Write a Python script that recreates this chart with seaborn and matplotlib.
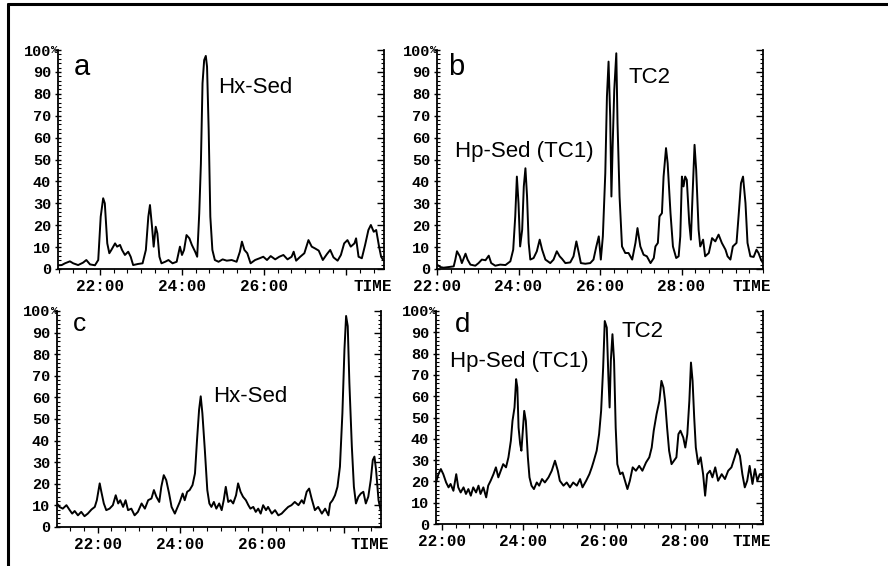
import matplotlib
matplotlib.use("Agg")
import matplotlib.pyplot as plt
import matplotlib.transforms as mtransforms
from matplotlib.lines import Line2D
from matplotlib.ticker import MultipleLocator, FixedLocator
import pandas as pd
import seaborn as sns

# ---------------- data (time in minutes, signal in %) ----------------
time_a = [20.98, 21.07, 21.15, 21.27, 21.35, 21.47, 21.59, 21.67, 21.76, 21.88,
          21.96, 22.02, 22.08, 22.12, 22.18, 22.23, 22.28, 22.37, 22.42, 22.49,
          22.54, 22.61, 22.69, 22.75, 22.81, 22.93, 23.04, 23.12, 23.18, 23.22,
          23.27, 23.31, 23.36, 23.40, 23.45, 23.50, 23.59, 23.67, 23.77, 23.87,
          23.95, 24.00, 24.05, 24.11, 24.18, 24.24, 24.32, 24.37, 24.42, 24.46,
          24.50, 24.54, 24.58, 24.61, 24.65, 24.69, 24.74, 24.80, 24.89, 24.99,
          25.09, 25.21, 25.33, 25.41, 25.46, 25.52, 25.59, 25.67, 25.78, 25.89,
          25.98, 26.07, 26.16, 26.27, 26.37, 26.47, 26.57, 26.67, 26.72, 26.78,
          26.88, 26.98, 27.08, 27.16, 27.24, 27.33, 27.43, 27.53, 27.61, 27.69,
          27.79, 27.87, 27.95, 28.03, 28.11, 28.20, 28.24, 28.30, 28.38, 28.46,
          28.54, 28.60, 28.67, 28.73, 28.80, 28.85, 28.89]
sig_a = [1.7, 1.8, 2.6, 3.5, 2.6, 1.8, 2.9, 4.1, 2.1, 1.7,
         4.1, 23.9, 32.3, 30.0, 11.7, 7.2, 8.7, 11.7, 10.2, 11.0,
         8.7, 6.4, 7.9, 5.6, 1.8, 2.3, 2.6, 8.7, 23.9, 29.2,
         19.3, 10.2, 19.3, 16.3, 5.6, 2.6, 3.3, 4.1, 2.6, 3.3,
         10.2, 6.4, 8.7, 15.5, 14.0, 11.0, 7.9, 5.6, 25.4, 48.0,
         84.8, 95.4, 97.3, 92.4, 63.5, 23.9, 8.7, 4.1, 3.3, 4.4,
         3.8, 4.1, 3.3, 7.9, 12.5, 8.7, 7.2, 2.6, 4.1, 4.9,
         5.6, 4.1, 5.9, 4.4, 5.6, 6.4, 4.4, 5.6, 7.9, 3.8,
         5.6, 7.2, 13.2, 10.2, 9.4, 8.4, 4.1, 6.8, 8.7, 5.3,
         3.8, 6.4, 11.7, 13.2, 10.2, 11.7, 14.0, 5.6, 4.9, 11.0,
         17.8, 20.1, 17.0, 17.8, 10.2, 5.6, 4.4]

time_b = [22.00, 22.08, 22.16, 22.29, 22.41, 22.45, 22.49, 22.56, 22.61, 22.70,
          22.75, 22.82, 22.94, 23.02, 23.10, 23.19, 23.27, 23.33, 23.43, 23.55,
          23.68, 23.80, 23.87, 23.92, 23.96, 24.00, 24.04, 24.09, 24.13, 24.17,
          24.21, 24.25, 24.29, 24.37, 24.45, 24.52, 24.58, 24.66, 24.78, 24.86,
          24.94, 25.01, 25.07, 25.15, 25.27, 25.35, 25.42, 25.48, 25.53, 25.64,
          25.76, 25.84, 25.91, 25.97, 26.02, 26.07, 26.13, 26.17, 26.21, 26.25,
          26.28, 26.31, 26.35, 26.40, 26.43, 26.48, 26.54, 26.62, 26.70, 26.79,
          26.87, 26.92, 26.99, 27.07, 27.15, 27.24, 27.32, 27.36, 27.42, 27.46,
          27.52, 27.56, 27.62, 27.66, 27.73, 27.79, 27.87, 27.93, 27.97, 28.01,
          28.05, 28.09, 28.13, 28.19, 28.23, 28.27, 28.32, 28.36, 28.42, 28.46,
          28.53, 28.58, 28.67, 28.75, 28.83, 28.91, 28.99, 29.08, 29.13, 29.20,
          29.26, 29.35, 29.40, 29.46, 29.51, 29.57, 29.62, 29.69, 29.77, 29.84,
          29.89, 29.95, 30.00]
sig_b = [2.0, 0.9, 0.6, 0.9, 1.2, 4.3, 8.1, 5.8, 2.7, 7.0,
         4.3, 2.0, 1.5, 2.7, 4.3, 4.0, 6.1, 2.7, 1.5, 2.0,
         1.8, 3.5, 8.8, 24.0, 42.2, 30.1, 10.3, 17.9, 37.7, 46.0,
         33.1, 11.9, 4.3, 5.0, 8.1, 13.4, 8.8, 4.3, 2.7, 4.3,
         8.1, 5.8, 4.6, 2.7, 3.0, 5.8, 12.6, 7.3, 2.7, 2.4,
         2.7, 4.3, 10.3, 14.9, 4.3, 14.9, 43.8, 78.7, 94.7, 69.6,
         33.1, 55.9, 81.8, 98.5, 66.6, 33.1, 10.3, 7.3, 7.3, 4.3,
         11.9, 18.7, 10.3, 6.5, 5.8, 2.7, 5.0, 10.3, 11.9, 24.0,
         25.5, 42.2, 55.2, 48.3, 25.5, 10.3, 5.0, 5.8, 14.9, 42.2,
         37.7, 42.2, 40.7, 21.0, 13.4, 33.1, 56.7, 45.3, 17.9, 10.3,
         13.4, 5.8, 7.3, 14.1, 12.6, 15.7, 11.9, 8.8, 5.8, 4.3,
         10.3, 11.9, 24.0, 39.2, 42.2, 30.1, 11.9, 5.8, 5.5, 8.8,
         7.3, 4.3, 2.7]

time_c = [21.01, 21.07, 21.15, 21.24, 21.32, 21.38, 21.44, 21.52, 21.60, 21.68,
          21.76, 21.85, 21.93, 21.98, 22.05, 22.09, 22.15, 22.21, 22.29, 22.37,
          22.44, 22.50, 22.55, 22.62, 22.68, 22.74, 22.82, 22.90, 22.98, 23.07,
          23.15, 23.23, 23.31, 23.37, 23.43, 23.50, 23.55, 23.61, 23.67, 23.74,
          23.80, 23.88, 23.93, 24.00, 24.07, 24.12, 24.18, 24.24, 24.31, 24.37,
          24.42, 24.47, 24.51, 24.55, 24.61, 24.67, 24.72, 24.77, 24.83, 24.89,
          24.96, 25.02, 25.07, 25.12, 25.18, 25.24, 25.30, 25.37, 25.42, 25.48,
          25.54, 25.61, 25.67, 25.72, 25.79, 25.85, 25.91, 25.97, 26.03, 26.10,
          26.15, 26.24, 26.32, 26.40, 26.48, 26.56, 26.64, 26.72, 26.80, 26.89,
          26.97, 27.02, 27.09, 27.15, 27.21, 27.29, 27.37, 27.46, 27.54, 27.62,
          27.66, 27.72, 27.78, 27.84, 27.90, 27.96, 28.01, 28.05, 28.09, 28.13,
          28.19, 28.24, 28.29, 28.35, 28.41, 28.47, 28.53, 28.59, 28.65, 28.70,
          28.74, 28.78, 28.84, 28.89]
sig_c = [10.9, 9.3, 8.5, 10.1, 7.8, 6.2, 7.4, 5.4, 7.0, 5.0,
         6.2, 8.1, 9.3, 12.4, 20.2, 16.3, 10.9, 7.8, 8.5, 10.1,
         14.7, 10.9, 12.4, 9.3, 12.4, 7.8, 8.5, 5.4, 7.0, 10.9,
         8.5, 12.4, 13.2, 17.1, 14.0, 11.6, 18.6, 24.0, 21.7, 15.5,
         9.3, 6.2, 8.5, 11.6, 15.5, 12.4, 16.3, 17.1, 19.4, 24.8,
         40.3, 54.3, 60.5, 52.7, 35.7, 17.1, 10.9, 9.3, 11.6, 8.5,
         10.9, 7.8, 12.4, 18.6, 11.6, 12.4, 10.9, 14.7, 20.2, 16.3,
         14.0, 12.4, 10.1, 8.5, 9.3, 7.0, 8.5, 6.2, 10.1, 7.8,
         9.3, 6.2, 7.8, 5.4, 6.2, 7.8, 9.3, 10.1, 11.6, 10.1,
         12.4, 10.9, 16.3, 17.8, 13.2, 7.8, 9.3, 6.2, 8.5, 5.4,
         10.9, 12.4, 14.7, 18.6, 27.9, 52.7, 82.2, 97.7, 93.0, 66.7,
         37.2, 18.6, 10.9, 14.0, 15.5, 16.3, 10.9, 14.0, 21.7, 31.0,
         32.6, 26.4, 12.4, 7.8]

time_d = [21.85, 21.91, 21.97, 22.03, 22.10, 22.16, 22.21, 22.28, 22.35, 22.40,
          22.46, 22.53, 22.59, 22.65, 22.71, 22.77, 22.84, 22.90, 22.95, 23.02,
          23.09, 23.14, 23.20, 23.27, 23.33, 23.39, 23.45, 23.51, 23.58, 23.64,
          23.70, 23.74, 23.79, 23.83, 23.86, 23.89, 23.93, 23.96, 23.99, 24.03,
          24.07, 24.12, 24.16, 24.21, 24.27, 24.34, 24.40, 24.47, 24.54, 24.63,
          24.71, 24.79, 24.86, 24.91, 25.00, 25.08, 25.16, 25.24, 25.33, 25.41,
          25.47, 25.56, 25.64, 25.70, 25.75, 25.82, 25.88, 25.93, 25.98, 26.02,
          26.07, 26.11, 26.14, 26.17, 26.21, 26.25, 26.29, 26.33, 26.40, 26.46,
          26.52, 26.58, 26.64, 26.71, 26.79, 26.87, 26.95, 27.04, 27.12, 27.18,
          27.23, 27.30, 27.37, 27.42, 27.47, 27.51, 27.56, 27.61, 27.67, 27.73,
          27.79, 27.84, 27.89, 27.96, 28.01, 28.06, 28.11, 28.15, 28.19, 28.23,
          28.27, 28.33, 28.39, 28.45, 28.50, 28.55, 28.62, 28.68, 28.75, 28.82,
          28.91, 28.99, 29.07, 29.15, 29.23, 29.29, 29.36, 29.42, 29.48, 29.54,
          29.60, 29.67, 29.73, 29.79, 29.85, 29.92]
sig_d = [19.5, 23.4, 25.8, 23.4, 19.5, 17.2, 18.8, 15.6, 23.4, 17.2,
         14.8, 17.2, 14.1, 16.4, 13.3, 17.2, 14.8, 18.0, 14.1, 17.2,
         12.5, 18.0, 20.3, 23.4, 26.6, 21.9, 25.0, 28.1, 26.6, 31.3,
         39.1, 48.4, 54.7, 68.0, 64.1, 45.3, 37.5, 34.4, 42.2, 53.1,
         48.4, 31.3, 21.9, 18.0, 16.4, 19.5, 18.0, 21.1, 19.5, 21.9,
         25.0, 29.7, 25.0, 20.3, 18.0, 19.5, 17.2, 19.5, 18.0, 21.1,
         17.2, 20.3, 23.4, 26.6, 29.7, 34.4, 42.2, 53.1, 73.4, 95.3,
         92.2, 68.8, 54.7, 76.6, 89.1, 76.6, 45.3, 28.1, 23.4, 24.2,
         20.3, 16.4, 20.3, 26.6, 25.0, 27.3, 25.0, 28.9, 31.3, 35.9,
         43.8, 51.6, 57.8, 67.2, 64.1, 57.8, 45.3, 34.4, 28.1, 29.7,
         31.3, 42.2, 43.8, 40.6, 35.9, 42.2, 57.8, 75.8, 67.2, 50.0,
         35.9, 28.1, 31.3, 23.4, 13.3, 23.4, 25.0, 21.9, 26.6, 20.3,
         23.4, 21.1, 25.0, 26.6, 31.3, 35.2, 32.0, 23.4, 17.2, 20.3,
         27.3, 18.8, 25.8, 20.3, 23.4, 22.7]

ytick_values = [0, 10, 20, 30, 40, 50, 60, 70, 80, 90, 100]
ytick_labels = ["0", "10", "20", "30", "40", "50", "60", "70", "80", "90", "100"]
xtick_values = [22, 24, 26, 28]
xtick_labels_ac = ["22:00", "24:00", "26:00", ""]
xtick_labels_bd = ["22:00", "24:00", "26:00", "28:00"]
axis_word = "TIME"
panel_letters = ["a", "b", "c", "d"]

# ---------------- style ----------------
sns.set_style("white")
plt.rcParams["font.family"] = ["Liberation Sans", "DejaVu Sans"]
plt.rcParams.update({"axes.edgecolor": "black", "xtick.color": "black",
                     "ytick.color": "black", "text.color": "black",
                     "axes.facecolor": "white", "figure.facecolor": "white"})

MONO = ["Liberation Mono", "DejaVu Sans Mono"]
fig = plt.figure(figsize=(8.88, 5.66), dpi=100)


def panel(rect, t, v, xlim, xlabels):
    ax = fig.add_axes(rect)
    df = pd.DataFrame({"t": t, "v": v})
    sns.lineplot(data=df, x="t", y="v", ax=ax, color="black", lw=1.4,
                 estimator=None, sort=False)
    ax.set_xlim(*xlim)
    ax.set_ylim(0, 100)
    ax.set_xlabel("")
    ax.set_ylabel("")
    ax.spines["top"].set_visible(False)
    ax.spines["right"].set_visible(False)
    for s in ("left", "bottom"):
        ax.spines[s].set_linewidth(1.3)
        ax.spines[s].set_color("black")
    ax.yaxis.set_major_locator(FixedLocator(ytick_values))
    ax.set_yticklabels(ytick_labels)
    ax.yaxis.set_minor_locator(MultipleLocator(2))
    ax.xaxis.set_major_locator(FixedLocator(xtick_values))
    ax.set_xticklabels(xlabels)
    ax.xaxis.set_minor_locator(MultipleLocator(1 / 3))
    ax.tick_params(axis="y", which="major", direction="inout", length=5,
                   width=1.0, pad=2.5, left=True, labelsize=11)
    ax.tick_params(axis="y", which="minor", direction="in", length=2.5,
                   width=0.8, left=True)
    ax.tick_params(axis="x", which="major", direction="out", length=4.5,
                   width=1.0, pad=3.0, bottom=True, labelsize=11.5)
    ax.tick_params(axis="x", which="minor", direction="out", length=3,
                   width=0.8, bottom=True)
    for lab in ax.get_xticklabels() + ax.get_yticklabels():
        lab.set_fontfamily(MONO)
        lab.set_fontweight("bold")
    # percent sign next to the top label
    trans = mtransforms.blended_transform_factory(ax.transAxes, ax.transData)
    ax.text(-0.02, 100, "%", transform=trans, ha="left", va="center",
            fontsize=8, fontweight="bold", family=MONO, clip_on=False)
    # axis word at right end
    ax.annotate(axis_word, xy=(1.025, 0), xycoords="axes fraction",
                xytext=(0, -7.5), textcoords="offset points", ha="right",
                va="top", fontsize=11.5, fontweight="bold", family=MONO,
                annotation_clip=False)
    # right spine with inward ticks
    sec = ax.secondary_yaxis("right")
    sec.yaxis.set_major_locator(FixedLocator(ytick_values))
    sec.yaxis.set_minor_locator(MultipleLocator(2))
    sec.tick_params(axis="y", which="major", direction="in", length=5,
                    width=1.0, right=True, labelright=False)
    sec.tick_params(axis="y", which="minor", direction="in", length=2.5,
                    width=0.8, right=True)
    sec.spines["right"].set_linewidth(1.3)
    sec.spines["right"].set_color("black")
    return ax


ax_a = panel([58 / 888, 1 - 269 / 566, 326 / 888, 219 / 566], time_a, sig_a,
             (20.98, 28.92), xtick_labels_ac)
ax_b = panel([437 / 888, 1 - 269 / 566, 326 / 888, 219 / 566], time_b, sig_b,
             (22.0, 30.0), xtick_labels_bd)
ax_c = panel([57 / 888, 1 - 527 / 566, 324 / 888, 216 / 566], time_c, sig_c,
             (21.01, 28.9), xtick_labels_ac)
ax_d = panel([436 / 888, 1 - 524 / 566, 327 / 888, 213 / 566], time_d, sig_d,
             (21.85, 29.93), xtick_labels_bd)

LET = dict(fontsize=21, ha="left", va="baseline")
ANN = dict(fontsize=16, ha="left", va="baseline")
ax_a.text(21.37, 88.6, panel_letters[0], **LET)
ax_a.text(24.88, 80.4, "Hx-Sed", **ANN)
ax_b.text(22.27, 88.6, panel_letters[1], **LET)
ax_b.text(26.69, 84.9, "TC2", **ANN)
ax_b.text(22.44, 51.1, "Hp-Sed (TC1)", **ANN)
ax_c.text(21.39, 90.7, panel_letters[2], fontsize=19, ha="left", va="baseline")
ax_c.text(24.80, 57.7, "Hx-Sed", **ANN)
ax_d.text(22.32, 90.1, panel_letters[3], fontsize=20, ha="left", va="baseline")
ax_d.text(26.44, 87.8, "TC2", **ANN)
ax_d.text(22.20, 73.7, "Hp-Sed (TC1)", **ANN)

# outer frame lines (top and left)
fig.add_artist(Line2D([8 / 888, 1.0], [1 - 4 / 566, 1 - 4 / 566],
                      transform=fig.transFigure, color="black", lw=2.2))
fig.add_artist(Line2D([8 / 888, 8 / 888], [0.0, 1 - 4 / 566],
                      transform=fig.transFigure, color="black", lw=2.2))

fig.savefig("out.png", dpi=100)
